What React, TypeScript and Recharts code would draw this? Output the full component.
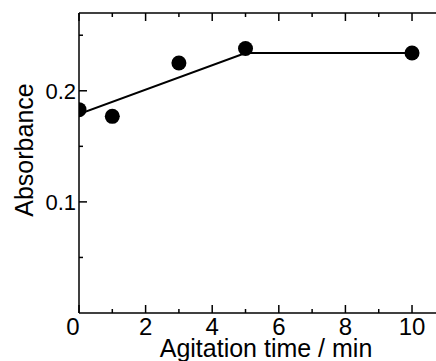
import React from 'react';
import { ScatterChart, Scatter, XAxis, YAxis, Label } from 'recharts';

// measured points
const times = [0, 1, 3, 5, 10];
const absorbance = [0.183, 0.177, 0.225, 0.238, 0.234];

// fitted line (two segments)
const fitTimes = [0, 5, 10];
const fitAbsorbance = [0.179, 0.234, 0.234];

const xTicks = [0, 1, 2, 3, 4, 5, 6, 7, 8, 9, 10];
const yTicks = [0.05, 0.1, 0.15, 0.2, 0.25];

const points = times.map((t, i) => ({ t, a: absorbance[i] }));
const fit = fitTimes.map((t, i) => ({ t, a: fitAbsorbance[i] }));

const FONT = '"Liberation Sans", Arial, Helvetica, sans-serif';

const BottomTick = (props: any) => {
  const { x, y, payload } = props;
  const v = payload.value;
  const major = v % 2 === 0;
  return (
    <g>
      <line x1={x} y1={y} x2={x} y2={y - (major ? 8 : 4)} stroke="#000" strokeWidth={1.5} />
      {major && (
        <text x={v === 0 ? x - 6 : x} y={y + 22} textAnchor="middle" fontSize={24} fontFamily={FONT} fill="#000">
          {v}
        </text>
      )}
    </g>
  );
};

const TopTick = (props: any) => {
  const { x, y, payload } = props;
  const major = payload.value % 2 === 0;
  return <line x1={x} y1={y} x2={x} y2={y + (major ? 8 : 4)} stroke="#000" strokeWidth={1.5} />;
};

const LeftTick = (props: any) => {
  const { x, y, payload } = props;
  const v = payload.value;
  const major = Math.abs(v * 10 - Math.round(v * 10)) < 1e-6;
  return (
    <g>
      <line x1={x} y1={y} x2={x + (major ? 8 : 4)} y2={y} stroke="#000" strokeWidth={1.5} />
      {major && (
        <text x={x - 3} y={y + 8} textAnchor="end" fontSize={22} fontFamily={FONT} fill="#000">
          {v.toFixed(1)}
        </text>
      )}
    </g>
  );
};

const App: React.FC = () => {
  return (
    <div style={{ position: 'absolute', left: 0, top: 0, background: '#fff' }}>
      <ScatterChart width={436} height={361} margin={{ top: 12, right: 0, bottom: 0, left: 0 }}>
        <XAxis
          xAxisId="bottom"
          dataKey="t"
          type="number"
          domain={[0, 10.72]}
          ticks={xTicks}
          interval={0}
          tickSize={0}
          tickMargin={0}
          tick={BottomTick}
          height={48}
          axisLine={{ stroke: '#000', strokeWidth: 1.5 }}
          allowDataOverflow
        >
          <Label
            content={(p: any) => {
              const vb = p.viewBox;
              return (
                <text x={vb.x + 187} y={vb.y + 44} textAnchor="middle" fontSize={25} fontFamily={FONT} fill="#000">
                  Agitation time / min
                </text>
              );
            }}
          />
        </XAxis>
        <XAxis
          xAxisId="top"
          orientation="top"
          dataKey="t"
          type="number"
          domain={[0, 10.72]}
          ticks={xTicks}
          interval={0}
          tickSize={0}
          tickMargin={0}
          tick={TopTick}
          height={1}
          axisLine={{ stroke: '#000', strokeWidth: 1.5 }}
          allowDataOverflow
        />
        <YAxis
          dataKey="a"
          type="number"
          domain={[0, 0.27]}
          ticks={yTicks}
          interval={0}
          tickSize={0}
          tickMargin={0}
          tick={LeftTick}
          width={79}
          axisLine={{ stroke: '#000', strokeWidth: 1.5 }}
          allowDataOverflow
        >
          <Label
            content={(p: any) => {
              const vb = p.viewBox;
              const cx = vb.x + 33;
              const cy = vb.y + vb.height / 2 - 13;
              return (
                <text
                  x={cx}
                  y={cy}
                  transform={`rotate(-90 ${cx} ${cy})`}
                  textAnchor="middle"
                  fontSize={25}
                  fontFamily={FONT}
                  fill="#000"
                >
                  Absorbance
                </text>
              );
            }}
          />
        </YAxis>
        <Scatter
          xAxisId="top"
          data={fit}
          line={{ stroke: '#000', strokeWidth: 2 }}
          shape={() => <g />}
          isAnimationActive={false}
        />
        <Scatter
          xAxisId="bottom"
          data={points}
          fill="#000"
          shape={(p: any) => <circle cx={p.cx} cy={p.cy} r={7.5} fill="#000" />}
          isAnimationActive={false}
        />
      </ScatterChart>
    </div>
  );
};

export default App;
